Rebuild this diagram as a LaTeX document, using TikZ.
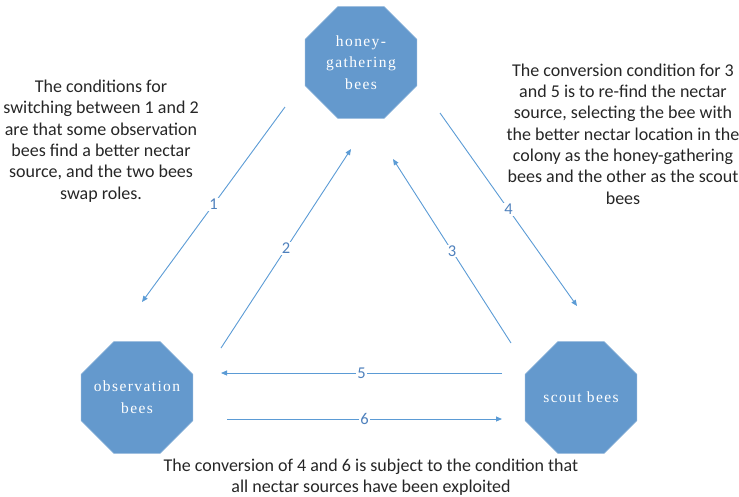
\documentclass[tikz,border=0pt]{standalone}
\usepackage{fontspec}
\setmainfont{Carlito}
\newfontfamily\octfont{Liberation Serif}[LetterSpace=9]
\usetikzlibrary{shapes.geometric,arrows.meta}
\definecolor{octfill}{RGB}{100,153,205}
\definecolor{arrowblue}{RGB}{91,155,213}
\definecolor{numblue}{RGB}{79,129,189}
\definecolor{txt}{RGB}{38,38,38}
\begin{document}
\begin{tikzpicture}[x=1pt,y=-1pt,
  oct/.style={regular polygon, regular polygon sides=8, minimum size=121pt, inner sep=0pt,
    fill=octfill, draw=octfill!75!white, line width=0.6pt},
  octtext/.style={text=white, align=center, inner sep=0pt,
    font=\octfont\fontsize{15.5}{21.8}\selectfont},
  conn/.style={arrowblue, line width=0.9pt, -{Triangle[length=6pt,width=5pt]}},
  num/.style={fill=white, text=numblue, inner sep=1pt, font=\fontsize{16.5}{16.5}\selectfont},
  desc/.style={text=txt, align=center, font=\fontsize{18}{21.3}\selectfont, inner sep=0pt}]
\useasboundingbox (0,0) rectangle (739,496);
\node[oct, label={[octtext]center:{honey-\\gathering\\bees}}] (hb) at (361,62.5) {};
\node[oct, label={[octtext]center:{observation\\bees}}] (ob) at (137,397.5) {};
\node[oct, label={[octtext]center:{scout bees}}] (sb) at (581,397.5) {};
% connector end points
\coordinate (a1s) at (285,107);
\coordinate (a1e) at (142,302);
\coordinate (a2s) at (221,348);
\coordinate (a2e) at (351,149);
\coordinate (a3s) at (511,343);
\coordinate (a3e) at (393,159);
\coordinate (a4s) at (440,113);
\coordinate (a4e) at (577,306);
\coordinate (a5s) at (502,373);
\coordinate (a5e) at (221,373);
\coordinate (a6s) at (227,419);
\coordinate (a6e) at (502,419);
\draw[conn] (a1s) -- node[num] {1} (a1e);
\draw[conn] (a2s) -- node[num] {2} (a2e);
\draw[conn] (a3s) -- node[num] {3} (a3e);
\draw[conn] (a4s) -- node[num] {4} (a4e);
\draw[conn] (a5s) -- node[num] {5} (a5e);
\draw[conn] (a6s) -- node[num] {6} (a6e);
% descriptions
\node[desc] (lt) at (101,141) {The conditions for\\switching between 1 and 2\\are that some observation\\bees find a better nectar\\source, and the two bees\\swap roles.};
\node[desc] (rt) at (623,134) {The conversion condition for 3\\and 5 is to re-find the nectar\\source, selecting the bee with\\the better nectar location in the\\colony as the honey-gathering\\bees and the other as the scout\\bees};
\node[desc] (bt) at (371,477.5) {The conversion of 4 and 6 is subject to the condition that\\all nectar sources have been exploited};
\end{tikzpicture}
\end{document}
